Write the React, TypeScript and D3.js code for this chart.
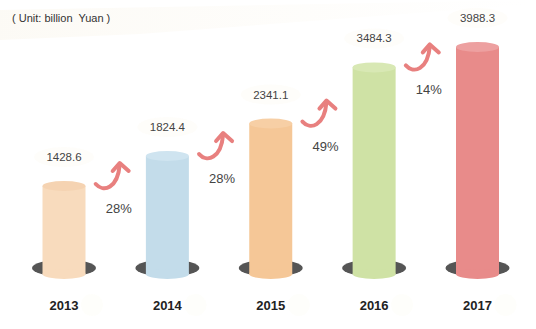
import React from "react";
import * as d3 from "d3";

const years = ["2013", "2014", "2015", "2016", "2017"];
const values = [1428.6, 1824.4, 2341.1, 3484.3, 3988.3];
const growth = ["28%", "28%", "49%", "14%"];
const bodyColors = ["#f8dbbd", "#c3dcea", "#f5c797", "#cfe2a5", "#e88b8a"];
const topColors = ["#f5d3b2", "#cfe4f0", "#f7cfa5", "#d8e8b4", "#eda0a0"];
const unitLabel = "( Unit: billion  Yuan )";

const W = 536;
const H = 329;

export default function App() {
  const x = d3.scalePoint<string>().domain(years).range([64, 477.5]);
  const y = d3.scalePow().exponent(0.25).domain([1428.6, 3988.3]).range([186, 47]);
  const baseY = 274;
  const rx = 21.5;
  const ry = 5;
  const font = "'Liberation Sans', Arial, sans-serif";

  return (
    <svg
      width={W}
      height={H}
      style={{ position: "absolute", left: 0, top: 0, fontFamily: font }}
    >
      <defs>
        <linearGradient id="streak" x1="0" y1="0" x2="1" y2="0">
          <stop offset="0" stopColor="#f8f3e6" stopOpacity="0.8" />
          <stop offset="0.6" stopColor="#faf6ec" stopOpacity="0.4" />
          <stop offset="1" stopColor="#fbf8f0" stopOpacity="0" />
        </linearGradient>
      </defs>
      <rect width={W} height={H} fill="#ffffff" />
      <path d="M0,10 L536,0 L536,4 L140,34 L0,40 Z" fill="url(#streak)" opacity={0.5} />
      <text x={12} y={22} fontSize={11} fill="#333" style={{ whiteSpace: "pre" }}>{unitLabel}</text>

      {years.map((yr, i) => {
        const cx = x(yr)!;
        const ty = y(values[i]);
        return (
          <g key={yr}>
            <ellipse cx={cx} cy={268} rx={32} ry={8.5} fill="#555555" />
            <rect x={cx - rx} y={ty} width={rx * 2} height={baseY - ty} fill={bodyColors[i]} />
            <ellipse cx={cx} cy={baseY} rx={rx} ry={ry} fill={bodyColors[i]} />
            <ellipse cx={cx} cy={ty} rx={rx} ry={ry} fill={topColors[i]} />
            <ellipse cx={cx} cy={ty - 29} rx={30} ry={10} fill="#fdfbf6" opacity={0.6} />
            <text x={cx} y={ty - 25} textAnchor="middle" fontSize={11.5} fill="#444">
              {values[i].toFixed(1)}
            </text>
            <circle cx={cx + 28} cy={305} r={11} fill="#fefdf9" opacity={0.6} />
            <text x={cx} y={310} textAnchor="middle" fontSize={13} fontWeight="bold" fill="#222">
              {yr}
            </text>
          </g>
        );
      })}

      {growth.map((g, i) => {
        const mid = (x(years[i])! + x(years[i + 1])!) / 2;
        const sy = y(values[i]) - 2;
        const sx = mid - 20;
        const tx = sx + 24;
        const tyy = sy - 21;
        return (
          <g key={"g" + i}>
            <path
              d={`M${sx},${sy} C${sx + 8},${sy + 9} ${sx + 22},${sy + 4} ${tx},${tyy + 2}`}
              fill="none"
              stroke="#e8807f"
              strokeWidth={4}
              strokeLinecap="round"
            />
            <path
              d={`M${tx - 7},${tyy + 8} L${tx},${tyy} L${tx + 9},${tyy + 8}`}
              fill="none"
              stroke="#e8807f"
              strokeWidth={4}
              strokeLinecap="round"
              strokeLinejoin="round"
            />
            <text x={mid + 3} y={sy + 29} textAnchor="middle" fontSize={13} fill="#444">
              {g}
            </text>
          </g>
        );
      })}
    </svg>
  );
}
